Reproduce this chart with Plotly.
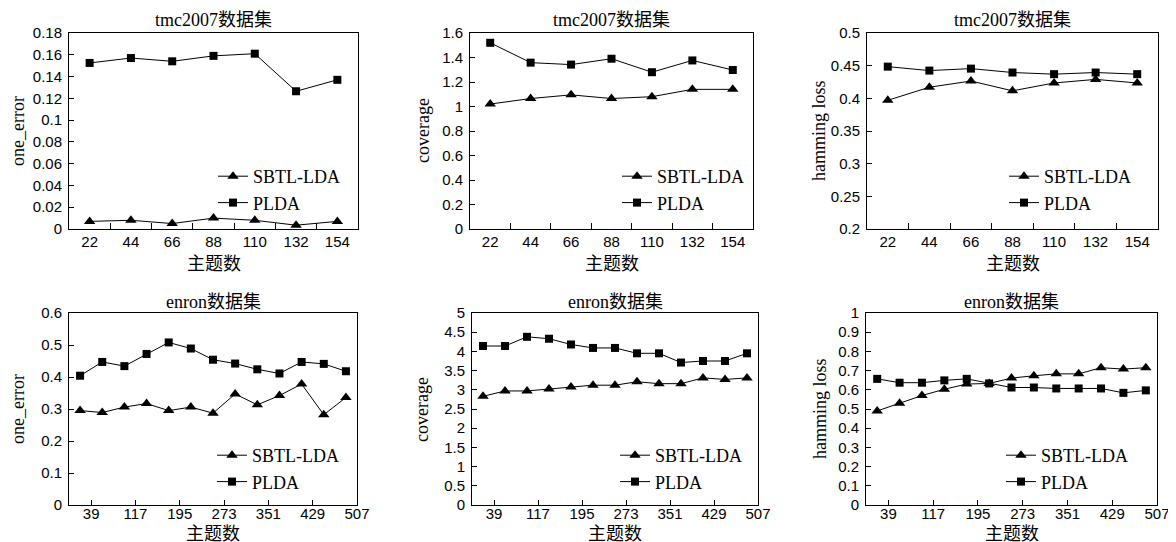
import plotly.graph_objects as go

# ---------------- data ----------------
tmc_topics = ["22", "44", "66", "88", "110", "132", "154"]
enron_topics = [39, 78, 117, 156, 195, 234, 273, 312, 351, 390, 429, 468, 507]

tmc_oneerror_sbtl = [0.007, 0.008, 0.005, 0.010, 0.008, 0.0035, 0.007]
tmc_oneerror_plda = [0.1525, 0.157, 0.154, 0.159, 0.161, 0.1265, 0.137]

tmc_coverage_sbtl = [1.02, 1.065, 1.095, 1.065, 1.08, 1.14, 1.14]
tmc_coverage_plda = [1.52, 1.358, 1.342, 1.39, 1.28, 1.376, 1.298]

tmc_hamming_sbtl = [0.397, 0.417, 0.4265, 0.4115, 0.4235, 0.429, 0.4235]
tmc_hamming_plda = [0.4485, 0.4425, 0.4455, 0.4395, 0.437, 0.4395, 0.437]

enron_oneerror_sbtl = [0.295, 0.289, 0.306, 0.317, 0.295, 0.306, 0.287, 0.347, 0.313, 0.342, 0.378, 0.282, 0.336]
enron_oneerror_plda = [0.404, 0.447, 0.434, 0.472, 0.508, 0.489, 0.454, 0.442, 0.424, 0.411, 0.447, 0.441, 0.418]

enron_coverage_sbtl = [2.83, 2.97, 2.97, 3.02, 3.07, 3.12, 3.12, 3.21, 3.16, 3.16, 3.31, 3.27, 3.31]
enron_coverage_plda = [4.14, 4.14, 4.38, 4.33, 4.18, 4.09, 4.09, 3.95, 3.95, 3.71, 3.75, 3.75, 3.95]

enron_hamming_sbtl = [0.490, 0.530, 0.570, 0.603, 0.630, 0.633, 0.661, 0.673, 0.683, 0.683, 0.715, 0.708, 0.715]
enron_hamming_plda = [0.657, 0.637, 0.637, 0.649, 0.657, 0.633, 0.612, 0.612, 0.607, 0.607, 0.607, 0.584, 0.597]

series_names = ["SBTL-LDA", "PLDA"]
titles = ["tmc2007数据集", "tmc2007数据集", "tmc2007数据集", "enron数据集", "enron数据集", "enron数据集"]
ylabels = ["one_error", "coverage", "hamming loss", "one_error", "coverage", "hamming loss"]
xlabel = "主题数"

y_ranges = [(0, 0.18), (0, 1.6), (0.2, 0.5), (0, 0.6), (0, 5), (0, 1)]
y_dticks = [0.02, 0.2, 0.05, 0.1, 0.5, 0.1]

# ---------------- layout geometry (screen pixels of the 1176x542 page) ----------------
PAGE_W, PAGE_H = 1176, 542
OFF = 8  # default page body margin (top/left) before the figure
W, H = PAGE_W - OFF, PAGE_H - OFF


def fx(px):
    return (px - OFF) / W


def fy(py):
    return 1 - (py - OFF) / H


plot_boxes = [  # left, right, top, bottom
    (69, 358, 33, 229),
    (470, 753, 33, 229),
    (867, 1158, 33, 229),
    (69, 357, 313, 505),
    (472, 758, 313, 505),
    (866, 1157, 313, 505),
]
title_y = [20, 20, 20, 302, 302, 302]
xlabel_y = [262, 262, 262, 532, 532, 532]
xtick_standoff = [-1, -1, -1, -5, -5, -5]
ylabel_x = [18, 423, 819, 18, 422, 820]
legend_text_x = [252, 656, 1043, 251, 654, 1040]
legend_top_y = [158, 158, 158, 437, 437, 437]

data_pairs = [
    (tmc_topics, tmc_oneerror_sbtl, tmc_oneerror_plda),
    (tmc_topics, tmc_coverage_sbtl, tmc_coverage_plda),
    (tmc_topics, tmc_hamming_sbtl, tmc_hamming_plda),
    (enron_topics, enron_oneerror_sbtl, enron_oneerror_plda),
    (enron_topics, enron_coverage_sbtl, enron_coverage_plda),
    (enron_topics, enron_hamming_sbtl, enron_hamming_plda),
]

SERIF = "Liberation Serif, Times New Roman, Noto Sans CJK SC, serif"
SANS = "Liberation Sans, Arial, sans-serif"
CJK = "Noto Sans CJK SC, sans-serif"

fig = go.Figure()
layout = dict(
    width=W, height=H,
    margin=dict(l=0, r=0, t=0, b=0, autoexpand=False),
    paper_bgcolor="white", plot_bgcolor="white",
    showlegend=True,
    annotations=[],
)

symbols = ["triangle-up", "square"]
msizes = [10, 8]

for i, (xs, s1, s2) in enumerate(data_pairs):
    k = i + 1
    xa = "x" if k == 1 else f"x{k}"
    ya = "y" if k == 1 else f"y{k}"
    lg = "legend" if k == 1 else f"legend{k}"
    for j, ys in enumerate([s1, s2]):
        fig.add_trace(go.Scatter(
            x=xs, y=ys, name=series_names[j], mode="lines+markers",
            line=dict(color="black", width=1),
            marker=dict(symbol=symbols[j], size=msizes[j], color="black"),
            xaxis=xa, yaxis=ya, legend=lg,
        ))

    l, r, t, b = plot_boxes[i]
    xdom = [fx(l), fx(r)]
    ydom = [fy(b), fy(t)]
    axis_common = dict(
        showline=True, linecolor="black", linewidth=1, mirror=True,
        showgrid=False, zeroline=False, ticks="inside", tickcolor="black",
        tickwidth=1, tickfont=dict(family=SANS, size=15, color="black"),
    )
    if i < 3:
        xaxis = dict(
            domain=xdom, anchor=ya, type="category", range=[-0.5, len(xs) - 0.5],
            tickson="boundaries", ticklen=6, ticklabelstandoff=xtick_standoff[i],
            **axis_common,
        )
    else:
        step = xs[1] - xs[0]
        tv = [xs[m] + step / 2 for m in range(0, len(xs), 2)]
        tt = [str(xs[m]) for m in range(0, len(xs), 2)]
        xaxis = dict(
            domain=xdom, anchor=ya, type="linear",
            range=[xs[0] - step / 2, xs[-1] + step / 2],
            tickmode="array", tickvals=tv, ticktext=tt, ticklen=5,
            ticklabelstandoff=xtick_standoff[i], **axis_common,
        )
    yaxis = dict(
        domain=ydom, anchor=xa, range=list(y_ranges[i]), dtick=y_dticks[i],
        tick0=y_ranges[i][0], ticklen=5, ticklabelstandoff=3, **axis_common,
    )
    layout["xaxis" if k == 1 else f"xaxis{k}"] = xaxis
    layout["yaxis" if k == 1 else f"yaxis{k}"] = yaxis

    # legend
    layout[lg] = dict(
        x=fx(legend_text_x[i] - 39), xanchor="left",
        y=fy(legend_top_y[i]), yanchor="top",
        bgcolor="rgba(0,0,0,0)", borderwidth=0,
        font=dict(family=SERIF, size=18, color="black"),
        tracegroupgap=0,
    )

    cx = (l + r) / 2
    # title
    layout["annotations"].append(dict(
        text=titles[i], x=fx(cx), y=fy(title_y[i]),
        xref="paper", yref="paper", xanchor="center", yanchor="middle",
        showarrow=False, font=dict(family=SERIF, size=18, color="black"),
    ))
    # x axis title
    layout["annotations"].append(dict(
        text=xlabel, x=fx(cx), y=fy(xlabel_y[i]),
        xref="paper", yref="paper", xanchor="center", yanchor="middle",
        showarrow=False, font=dict(family=CJK, size=18, color="black"),
    ))
    # y axis title
    layout["annotations"].append(dict(
        text=ylabels[i], x=fx(ylabel_x[i]), y=fy((t + b) / 2),
        xref="paper", yref="paper", xanchor="center", yanchor="middle",
        textangle=-90, showarrow=False,
        font=dict(family=SERIF, size=18, color="black"),
    ))

fig.update_layout(**layout)
fig.write_html("out.html")
